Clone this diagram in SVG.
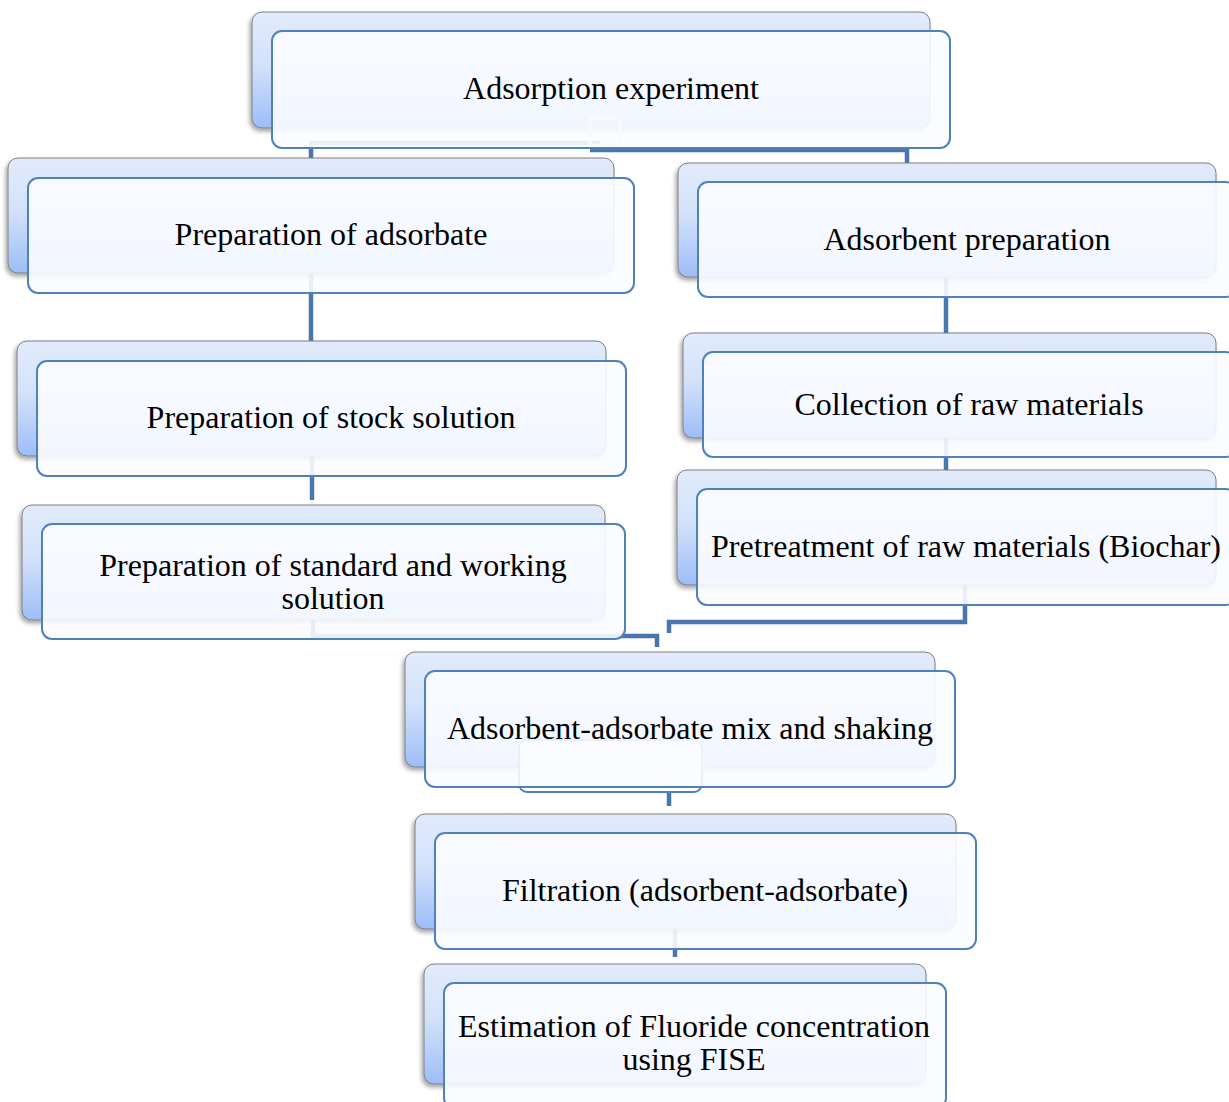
<svg xmlns="http://www.w3.org/2000/svg" width="1229" height="1102" viewBox="0 0 1229 1102">
<defs>
<linearGradient id="bg" x1="0" y1="0" x2="0" y2="1">
<stop offset="0" stop-color="#e2ebfc"/>
<stop offset="0.45" stop-color="#d3e2fb"/>
<stop offset="1" stop-color="#9dbdf7"/>
</linearGradient>
<filter id="sh" x="-10%" y="-10%" width="120%" height="130%">
<feDropShadow dx="-2" dy="3" stdDeviation="2" flood-color="#000" flood-opacity="0.35"/>
</filter>
</defs>
<style>
.back{fill:url(#bg);stroke:#7f7f7f;stroke-width:1;filter:url(#sh)}
.front{fill:#fbfcff;fill-opacity:0.9;stroke:#4f81bd;stroke-width:2}
.con{fill:none;stroke:#4a76b0;stroke-width:4.5}
.art{fill:#fdfeff;stroke:#4f81bd;stroke-width:2}
.lbl{font-family:"Liberation Serif","Times New Roman",serif;font-size:32px;fill:#000;text-anchor:middle}
</style>
<rect width="1229" height="1102" fill="#ffffff"/>
<g id="connectors">
<path class="con" d="M311,158 V143 H600"/>
<path class="con" d="M590,150 H907 V163"/>
<path class="con" d="M311,273 V341"/>
<path class="con" d="M312,456 V500"/>
<path class="con" d="M313,620 V636 H657 V647"/>
<path class="con" d="M946,277 V333"/>
<path class="con" d="M946,438 V470"/>
<path class="con" d="M965,585 V622 H669 V633"/>
<path class="con" d="M669,767 V806"/>
<path class="con" d="M675,929 V957"/>
</g>
<g id="node-adsorption-experiment">
<rect class="back" x="252" y="12" width="678" height="116" rx="10"/>
<rect x="590" y="118" width="30" height="27" fill="none" stroke="#e2e8f0" stroke-width="3"/>
<rect class="front" x="272" y="31" width="678" height="117" rx="10"/>
<text class="lbl" x="611" y="99">Adsorption experiment</text>
</g>
<g id="node-preparation-adsorbate">
<rect class="back" x="8" y="158" width="606" height="115" rx="10"/>
<rect class="front" x="28" y="178" width="606" height="115" rx="10"/>
<text class="lbl" x="331" y="245">Preparation of adsorbate</text>
</g>
<g id="node-adsorbent-preparation">
<rect class="back" x="678" y="163" width="538" height="114" rx="10"/>
<rect class="front" x="698" y="182" width="538" height="115" rx="10"/>
<text class="lbl" x="967" y="250">Adsorbent preparation</text>
</g>
<g id="node-stock-solution">
<rect class="back" x="17" y="341" width="589" height="115" rx="10"/>
<rect class="front" x="37" y="361" width="589" height="115" rx="10"/>
<text class="lbl" x="331" y="428">Preparation of stock solution</text>
</g>
<g id="node-standard-working">
<rect class="back" x="22" y="505" width="583" height="115" rx="10"/>
<rect class="front" x="42" y="524" width="583" height="115" rx="10"/>
<text class="lbl" x="333" y="576">Preparation of standard and working</text>
<text class="lbl" x="333" y="609">solution</text>
</g>
<g id="node-collection">
<rect class="back" x="683" y="333" width="533" height="105" rx="10"/>
<rect class="front" x="703" y="352" width="533" height="105" rx="10"/>
<text class="lbl" x="969" y="415">Collection of raw materials</text>
</g>
<g id="node-pretreatment">
<rect class="back" x="677" y="470" width="539" height="115" rx="10"/>
<rect class="front" x="697" y="489" width="539" height="116" rx="10"/>
<text class="lbl" x="966" y="557">Pretreatment of raw materials (Biochar)</text>
</g>
<g id="node-mix-shaking">
<rect class="back" x="405" y="652" width="530" height="115" rx="10"/>
<rect class="art" x="519" y="740" width="183" height="52" rx="8"/>
<rect class="front" x="425" y="671" width="530" height="116" rx="10"/>
<text class="lbl" x="690" y="739">Adsorbent-adsorbate mix and shaking</text>
</g>
<g id="node-filtration">
<rect class="back" x="415" y="814" width="541" height="115" rx="10"/>
<rect class="front" x="435" y="833" width="541" height="116" rx="10"/>
<text class="lbl" x="705" y="901">Filtration (adsorbent-adsorbate)</text>
</g>
<g id="node-estimation">
<rect class="back" x="424" y="964" width="502" height="120" rx="10"/>
<rect class="front" x="444" y="983" width="502" height="125" rx="10"/>
<text class="lbl" x="694" y="1037">Estimation of Fluoride concentration</text>
<text class="lbl" x="694" y="1070">using FISE</text>
</g>
</svg>
